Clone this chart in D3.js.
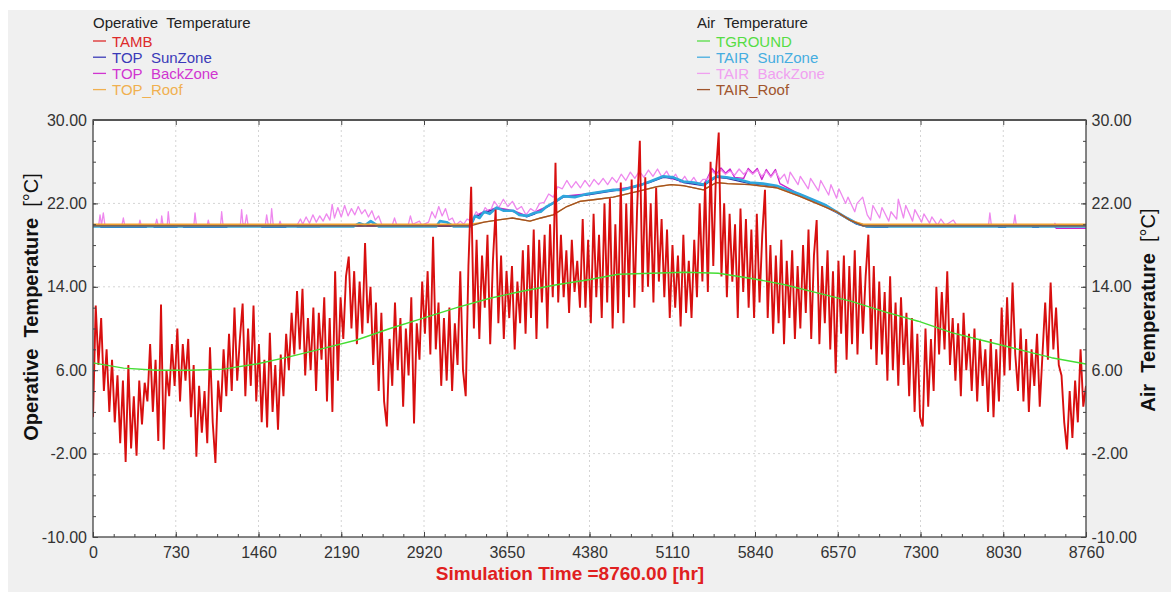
<!DOCTYPE html>
<meta charset="utf-8">
<script src="https://d3js.org/d3.v7.min.js"></script>
<style>
  body { margin: 0; background: #fff; }
  text { font-family: Arial, "Liberation Sans", sans-serif; }
</style>
<body>
<div id="chart"></div>
<script>
// hourly simulation, one reading every tambStep hours for the ambient temperature
var tambStep = 24;
var tamb = [
  1.5, 12.2, 6.5, 11.0, 4.0, 8.0, 2.0, 7.0, 1.0, 5.5,
  -1.0, 5.0, -2.8, 6.5, -1.5, 3.5, -2.2, 5.0, 0.8, 4.8,
  3.0, 8.5, 2.0, 7.0, -0.8, 12.3, -1.6, 6.0, 3.5, 8.5,
  4.5, 10.0, 3.0, 8.5, 5.0, 9.0, 1.5, 6.5, -2.3, 4.5,
  0.0, 4.0, -1.0, 8.2, 1.0, -2.9, 5.0, 2.0, 8.0, 3.5,
  9.5, 4.0, 12.0, 5.0, 9.0, 12.4, 3.5, 10.0, 4.5, 12.2,
  3.0, 8.5, 1.0, 7.0, 0.5, 9.6, 2.0, 6.5, 0.3, 7.5,
  3.5, 9.5, 6.0, 11.5, 7.5, 13.6, 8.0, 13.8, 5.5, 11.0,
  6.0, 12.0, 4.0, 11.5, 7.0, 13.0, 3.0, 11.0, 2.0, 15.5,
  5.0, 13.0, 9.0, 15.0, 16.9, 10.0, 15.5, 8.5, 14.5, 9.5,
  18.2, 10.5, 14.0, 6.5, 12.5, 4.0, 11.5, 3.0, 0.6, 9.0,
  4.5, 12.5, 6.0, 11.0, 2.5, 10.0, 5.5, 13.0, 0.9, 10.5,
  7.0, 14.5, 9.5, 15.5, 7.5, 18.8, 8.0, 12.5, 4.5, 11.0,
  5.0, 12.0, 4.0, 10.5, 6.5, 15.5, 6.0, 3.5, 16.0, 23.6,
  10.0, 18.5, 9.0, 17.0, 12.0, 19.0, 8.5, 16.5, 21.4, 10.5,
  17.0, 9.0, 15.5, 11.0, 16.0, 8.0, 14.5, 10.5, 17.5, 9.5,
  18.0, 11.0, 19.5, 9.0, 18.5, 12.5, 19.0, 10.0, 20.0, 13.0,
  25.9, 12.5, 19.0, 13.0, 17.5, 11.5, 18.5, 13.5, 16.5, 12.0,
  20.5, 12.0, 18.5, 10.5, 21.0, 13.0, 19.0, 11.0, 22.0, 12.5,
  22.5, 10.0, 20.0, 11.5, 24.0, 10.5, 22.0, 13.0, 24.3, 12.0,
  21.5, 28.0, 13.5, 24.5, 14.0, 22.0, 12.5, 23.5, 14.5, 20.5,
  13.0, 19.5, 11.0, 18.0, 12.0, 17.0, 10.2, 19.0, 11.5, 16.5,
  11.0, 18.5, 13.0, 22.0, 14.5, 24.0, 13.5, 26.0, 16.0, 25.0,
  28.8, 15.0, 22.0, 13.0, 21.0, 14.5, 20.0, 11.0, 21.5, 13.5,
  20.5, 12.0, 19.5, 11.0, 21.0, 12.5, 19.0, 23.3, 11.0, 18.0,
  9.5, 17.0, 10.5, 18.5, 8.5, 16.5, 11.0, 17.5, 9.0, 16.0,
  10.0, 18.0, 11.5, 19.5, 9.0, 17.0, 20.4, 8.5, 16.0, 10.5,
  17.5, 8.0, 15.5, 5.7, 16.5, 9.5, 17.0, 7.0, 16.0, 8.5,
  17.5, 7.5, 16.0, 9.5, 15.0, 19.0, 8.0, 16.0, 6.5, 14.5,
  7.5, 13.5, 5.0, 15.0, 6.0, 12.5, 4.5, 13.0, 6.5, 11.5,
  3.5, 11.0, 2.0, 9.5, 1.5, 0.6, 10.0, 2.5, 9.0, 4.0,
  14.0, 7.5, 13.5, 8.0, 15.5, 6.5, 11.0, 5.0, 10.5, 3.5,
  11.5, 6.0, 9.5, 4.0, 10.0, 3.0, 9.0, 4.5, 8.0, 2.0,
  9.0, 1.5, 8.0, 3.0, 12.0, 5.5, 13.0, 6.0, 14.4, 7.5,
  4.0, 10.0, 3.0, 9.0, 2.0, 8.0, 4.5, 9.5, 2.5, 7.5,
  12.5, 7.0, 14.4, 8.0, 12.0, 6.5, 5.5, 1.0, -1.6, 4.0,
  -0.5, 5.0, 1.0, 8.0, 2.5, 4.5
];

// [hour, degC]
var tground = [[0,6.7],[270,6.2],[560,6.0],[860,6.0],[1150,6.1],[1444,6.6],[1738,7.3],[2032,8.1],
  [2326,8.9],[2620,10.0],[2914,11.0],[3208,12.0],[3502,12.9],[3796,13.6],[4090,14.2],[4384,14.7],
  [4634,15.2],[4928,15.3],[5222,15.4],[5516,15.3],[5810,14.8],[6104,14.2],[6398,13.4],[6692,12.6],
  [6986,11.6],[7280,10.7],[7574,9.6],[7868,8.8],[8162,8.0],[8456,7.2],[8760,6.6]];

var tairRoof = [[0,19.85],[3330,19.85],[3450,20.2],[3562,20.4],[3700,20.6],[3855,20.3],[3950,20.6],
  [4060,20.9],[4180,21.7],[4296,22.2],[4450,22.4],[4590,22.6],[4825,23.2],[4975,23.6],[5100,23.8],
  [5207,23.7],[5385,23.3],[5500,24.0],[5600,23.9],[5795,23.8],[6030,23.5],[6230,22.7],[6383,22.0],
  [6560,21.2],[6677,20.4],[6795,19.85],[8760,19.85]];

var topRoof = [[0,20.0],[3330,20.0],[3450,20.2],[3562,20.4],[3700,20.6],[3855,20.3],[3950,20.6],
  [4060,20.9],[4180,21.7],[4296,22.2],[4450,22.4],[4590,22.6],[4825,23.2],[4975,23.6],[5100,23.8],
  [5207,23.7],[5385,23.3],[5500,24.0],[5600,23.9],[5795,23.8],[6030,23.5],[6230,22.7],[6383,22.0],
  [6560,21.2],[6677,20.4],[6795,20.0],[8760,20.0]];

var tairSun = [[0,19.8],[2300,19.8],[2350,20.1],[2400,19.9],[2450,20.3],[2520,19.8],[3030,19.8],
  [3060,20.3],[3120,20.2],[3180,19.8],[3330,19.8],[3370,20.8],[3410,20.6],[3450,21.2],[3500,21.0],
  [3562,21.6],[3620,21.3],[3709,21.3],[3760,20.9],[3826,20.8],[3900,21.1],[3950,21.2],[4002,21.7],
  [4070,22.1],[4149,22.7],[4250,22.6],[4355,22.9],[4470,23.1],[4590,23.3],[4680,23.3],[4766,23.6],
  [4840,23.8],[4914,24.1],[5031,24.6],[5120,24.5],[5207,24.1],[5300,24.0],[5385,23.8],[5440,24.2],
  [5501,24.6],[5590,24.5],[5700,24.3],[5795,24.0],[5910,23.9],[6030,23.7],[6130,23.3],[6230,22.9],
  [6383,22.2],[6470,21.8],[6560,21.2],[6650,20.6],[6736,20.1],[6825,19.8],[8760,19.8]];

var topSun = [[0,19.85],[60,19.85],[70,19.7],[470,19.7],[480,19.85],[530,19.85],[540,19.7],[740,19.7],
  [750,19.85],[790,19.85],[800,19.7],[1180,19.7],[1190,19.85],[1480,19.85],[1490,19.7],[1700,19.7],
  [1710,19.85],[1790,19.85],[1800,19.75],[2000,19.75],[2010,19.85],[3330,19.8],[3370,20.7],[3450,21.1],
  [3562,21.5],[3709,21.2],[3826,20.7],[3900,21.0],[4002,21.6],[4149,22.6],[4355,22.8],[4590,23.2],
  [4766,23.5],[4914,24.0],[5031,24.5],[5120,24.4],[5207,24.0],[5385,23.7],[5501,24.5],[5590,24.4],
  [5795,23.9],[6030,23.6],[6230,22.8],[6383,22.1],[6560,21.1],[6736,20.0],[6825,19.75],[6900,19.7],
  [7010,19.7],[7020,19.85],[7980,19.85],[7990,19.7],[8050,19.7],[8060,19.85],[8280,19.85],[8290,19.7],
  [8340,19.7],[8350,19.85],[8760,19.85]];

var tairBack = [[0,19.9],[50,19.9],[62,20.9],[75,19.9],[91,21.1],[105,19.9],[255,19.9],[268,20.6],
  [280,19.9],[405,19.9],[414,20.4],[425,19.9],[550,19.9],[562,20.5],[575,19.9],[600,20.0],[606,20.8],
  [618,19.9],[655,19.9],[664,21.2],[676,19.9],[890,19.9],[900,21.1],[912,19.9],[1008,19.9],[1017,20.4],
  [1028,19.9],[1125,19.9],[1135,21.2],[1147,19.9],[1300,19.9],[1311,21.4],[1322,20.1],[1340,19.9],
  [1355,20.9],[1368,19.9],[1520,19.9],[1532,20.9],[1545,20.0],[1565,19.9],[1576,21.5],[1590,19.9],
  [1640,19.9],[1650,20.3],[1662,19.9],[1800,19.9],[1830,20.5],[1850,20.0],[1880,20.7],[1910,20.1],
  [1940,20.9],[1970,20.2],[2000,20.8],[2030,20.3],[2060,21.0],[2090,20.4],[2110,21.9],[2130,20.6],
  [2160,21.6],[2190,20.7],[2220,21.8],[2250,20.8],[2280,21.5],[2310,20.9],[2340,21.7],[2370,21.0],
  [2400,21.4],[2430,20.7],[2460,21.3],[2490,20.4],[2520,20.8],[2550,19.9],[2640,19.9],[2660,20.6],
  [2680,19.9],[2780,19.9],[2800,20.8],[2820,20.0],[2880,20.3],[2900,19.9],[2960,20.2],[2990,21.2],
  [3020,20.6],[3050,21.7],[3080,20.8],[3110,21.5],[3140,20.4],[3170,20.6],[3200,19.9],[3240,20.3],
  [3270,20.0],[3300,20.5],[3340,20.3],[3380,21.2],[3420,20.7],[3460,21.6],[3500,21.1],[3540,22.2],
  [3580,21.6],[3620,22.4],[3660,21.7],[3700,22.2],[3740,21.4],[3780,21.7],[3820,20.9],[3860,21.5],
  [3900,21.2],[3940,22.0],[3980,22.1],[4020,22.9],[4060,22.6],[4100,23.6],[4140,23.4],[4180,24.2],
  [4220,23.5],[4260,24.1],[4300,23.5],[4340,24.2],[4380,23.6],[4420,24.3],[4460,23.8],[4500,24.4],
  [4540,23.8],[4580,24.5],[4620,24.0],[4660,24.8],[4700,24.2],[4740,25.0],[4780,24.4],[4820,25.1],
  [4860,24.5],[4900,25.2],[4940,24.6],[4980,25.3],[5020,24.5],[5060,25.1],[5100,24.3],[5140,24.8],
  [5180,24.0],[5220,24.6],[5260,23.9],[5300,24.5],[5340,23.8],[5380,24.3],[5420,24.3],[5460,25.1],
  [5500,24.7],[5540,25.2],[5580,24.8],[5620,25.1],[5660,24.7],[5700,25.3],[5740,24.8],[5780,25.2],
  [5820,24.8],[5860,25.2],[5900,24.6],[5940,25.1],[5980,24.5],[6020,25.1],[6060,24.3],[6100,24.8],
  [6130,23.9],[6150,25.0],[6220,23.8],[6240,24.6],[6310,23.4],[6330,24.4],[6400,23.2],[6420,24.2],
  [6490,22.8],[6510,23.8],[6560,22.5],[6580,23.4],[6640,22.0],[6660,22.6],[6720,21.2],[6740,22.0],
  [6790,22.6],[6830,20.9],[6860,20.4],[6880,21.8],[6940,20.6],[6960,21.6],[7020,20.3],[7040,21.2],
  [7090,20.5],[7104,22.4],[7150,20.6],[7170,21.8],[7230,20.3],[7250,21.4],[7310,20.2],[7330,21.0],
  [7380,20.1],[7400,20.7],[7450,19.9],[7480,20.5],[7520,19.9],[7590,20.4],[7620,19.9],[7900,19.9],
  [7912,21.1],[7925,19.9],[8120,19.9],[8133,20.9],[8145,19.9],[8476,19.9],[8486,20.1],[8496,19.9],
  [8760,19.9]];

var topBack = [[0,19.9],[3330,19.9],[3370,20.8],[3450,21.2],[3562,21.6],[3709,21.3],[3826,20.8],
  [4002,21.7],[4149,22.7],[4355,22.9],[4590,23.3],[4766,23.6],[4914,24.1],[5031,24.6],[5207,24.1],
  [5385,23.8],[5420,24.4],[5460,25.35],[5500,24.8],[5540,25.4],[5580,24.9],[5620,25.3],[5660,24.5],
  [5740,24.4],[5780,25.35],[5820,24.9],[5860,25.35],[5900,24.3],[5940,25.25],[5980,24.6],[6020,25.25],
  [6060,23.9],[6230,22.9],[6383,22.2],[6560,21.2],[6736,20.1],[6825,19.8],[8480,19.8],[8500,19.6],
  [8760,19.6]];

var xTicks = [0, 730, 1460, 2190, 2920, 3650, 4380, 5110, 5840, 6570, 7300, 8030, 8760];
var yTicks = [-10, -2, 6, 14, 22, 30];
var opLegend = ["TAMB", "TOP  SunZone", "TOP  BackZone", "TOP_Roof"];
var airLegend = ["TGROUND", "TAIR  SunZone", "TAIR  BackZone", "TAIR_Roof"];
var opColors = ["#dd2a2a", "#3a3ab8", "#d035d0", "#f0b050"];
var airColors = ["#55dd44", "#45ade0", "#f0a0f0", "#a0552d"];

var W = 1171, H = 592;
var svg = d3.select("#chart").append("svg").attr("width", W).attr("height", H);

svg.append("rect").attr("x", 8).attr("y", 10).attr("width", W - 8).attr("height", H - 10)
  .attr("fill", "#f0f0f0");

var x = d3.scaleLinear().domain([0, 8760]).range([93, 1086]);
var y = d3.scaleLinear().domain([-10, 30]).range([537, 120]);

svg.append("rect").attr("x", x(0)).attr("y", y(30))
  .attr("width", x(8760) - x(0)).attr("height", y(-10) - y(30)).attr("fill", "#fff");

// grid
svg.append("g").selectAll("line").data(xTicks.slice(1, -1)).enter().append("line")
  .attr("x1", d => x(d)).attr("x2", d => x(d)).attr("y1", y(30)).attr("y2", y(-10))
  .attr("stroke", "#d4d4d4").attr("stroke-dasharray", "2,3");
svg.append("g").selectAll("line").data(yTicks.slice(1, -1)).enter().append("line")
  .attr("x1", x(0)).attr("x2", x(8760)).attr("y1", d => y(d)).attr("y2", d => y(d))
  .attr("stroke", "#d4d4d4").attr("stroke-dasharray", "2,3");

// series
svg.append("clipPath").attr("id", "clip").append("rect")
  .attr("x", x(0)).attr("y", y(30)).attr("width", x(8760) - x(0)).attr("height", y(-10) - y(30));
var plot = svg.append("g").attr("clip-path", "url(#clip)");
var line = d3.line().x(d => x(d[0])).y(d => y(d[1]));

function draw(data, color, w) {
  plot.append("path").datum(data).attr("d", line)
    .attr("fill", "none").attr("stroke", color).attr("stroke-width", w)
    .attr("stroke-linejoin", "round");
}
draw(topBack, "#cc22cc", 1.4);
draw(tairBack, "#ee88ee", 1.3);
draw(topSun, "#2a2aa0", 1.2);
draw(tairSun, "#2fa6dc", 2.6);
draw(topRoof, "#f0a030", 1.4);
draw(tairRoof, "#9c5028", 1.3);

plot.append("path").datum(tamb)
  .attr("d", d3.line().x((d, i) => x(i * tambStep)).y(d => y(d)))
  .attr("fill", "none").attr("stroke", "#d80f0f").attr("stroke-width", 1.9);

draw(tground, "#44dd33", 1.4);

// axes
var fmtY = d => d.toFixed(2);
function styleAxis(g) {
  g.select(".domain").remove();
  g.selectAll(".tick line").attr("stroke", "#444");
  g.selectAll("text").attr("fill", "#333").style("font-size", "16px")
    .style("font-family", "Arial, 'Liberation Sans', sans-serif");
}
var minorX = d3.range(0, 8761, 182.5);
var minorY = d3.range(-10, 30.1, 2);

svg.append("g").attr("transform", "translate(0," + y(-10) + ")")
  .call(d3.axisBottom(x).tickValues(minorX).tickSize(-3).tickFormat(""))
  .call(styleAxis);
svg.append("g").attr("transform", "translate(0," + y(-10) + ")")
  .call(d3.axisBottom(x).tickValues(xTicks).tickSize(-5).tickPadding(9.5).tickFormat(d => String(d)))
  .call(styleAxis);
svg.append("g").attr("transform", "translate(0," + y(30) + ")")
  .call(d3.axisTop(x).tickValues(xTicks).tickSize(-5).tickFormat(""))
  .call(styleAxis);
svg.append("g").attr("transform", "translate(" + x(0) + ",0)")
  .call(d3.axisLeft(y).tickValues(minorY).tickSize(-3).tickFormat(""))
  .call(styleAxis);
svg.append("g").attr("transform", "translate(" + x(0) + ",0)")
  .call(d3.axisLeft(y).tickValues(yTicks).tickSize(-5).tickPadding(6).tickFormat(fmtY))
  .call(styleAxis);
svg.append("g").attr("transform", "translate(" + x(8760) + ",0)")
  .call(d3.axisRight(y).tickValues(minorY).tickSize(-3).tickFormat(""))
  .call(styleAxis);
svg.append("g").attr("transform", "translate(" + x(8760) + ",0)")
  .call(d3.axisRight(y).tickValues(yTicks).tickSize(-5).tickPadding(5.5).tickFormat(fmtY))
  .call(styleAxis);

// frame
svg.append("rect").attr("x", x(0)).attr("y", y(30))
  .attr("width", x(8760) - x(0)).attr("height", y(-10) - y(30))
  .attr("fill", "none").attr("stroke", "#444").attr("stroke-width", 1.3);
svg.append("line").attr("x1", x(0)).attr("x2", x(8760)).attr("y1", y(30)).attr("y2", y(30))
  .attr("stroke", "#555").attr("stroke-width", 2);

// axis titles
svg.append("text").attr("x", 570).attr("y", 580).attr("text-anchor", "middle")
  .attr("fill", "#e02020").style("font-size", "19px").style("font-weight", "bold")
  .text("Simulation Time =8760.00 [hr]");

var nb = s => s.replace(/ /g, "\u00a0");
var lt = svg.append("text").attr("transform", "translate(38,307) rotate(-90)")
  .attr("text-anchor", "middle").attr("fill", "#111").style("font-size", "20px");
lt.append("tspan").style("font-weight", "bold").text(nb("Operative  Temperature  "));
lt.append("tspan").text("[°C]");

var rt = svg.append("text").attr("transform", "translate(1155,310) rotate(-90)")
  .attr("text-anchor", "middle").attr("fill", "#111").style("font-size", "20px");
rt.append("tspan").style("font-weight", "bold").text(nb("Air  Temperature  "));
rt.append("tspan").text("[°C]");

// legends
function legend(x0, title, names, colors) {
  var g = svg.append("g").style("font-size", "15px");
  g.append("text").attr("x", x0).attr("y", 27.5).attr("fill", "#222").text(nb(title));
  names.forEach(function(n, i) {
    var yy = 46.5 + i * 16.2;
    g.append("line").attr("x1", x0).attr("x2", x0 + 13).attr("y1", yy - 5.5).attr("y2", yy - 5.5)
      .attr("stroke", colors[i]).attr("stroke-width", 1.3);
    g.append("text").attr("x", x0 + 19).attr("y", yy).attr("fill", colors[i]).text(nb(n));
  });
}
legend(93, "Operative  Temperature", opLegend, opColors);
legend(697, "Air  Temperature", airLegend, airColors);
</script>
</body>
